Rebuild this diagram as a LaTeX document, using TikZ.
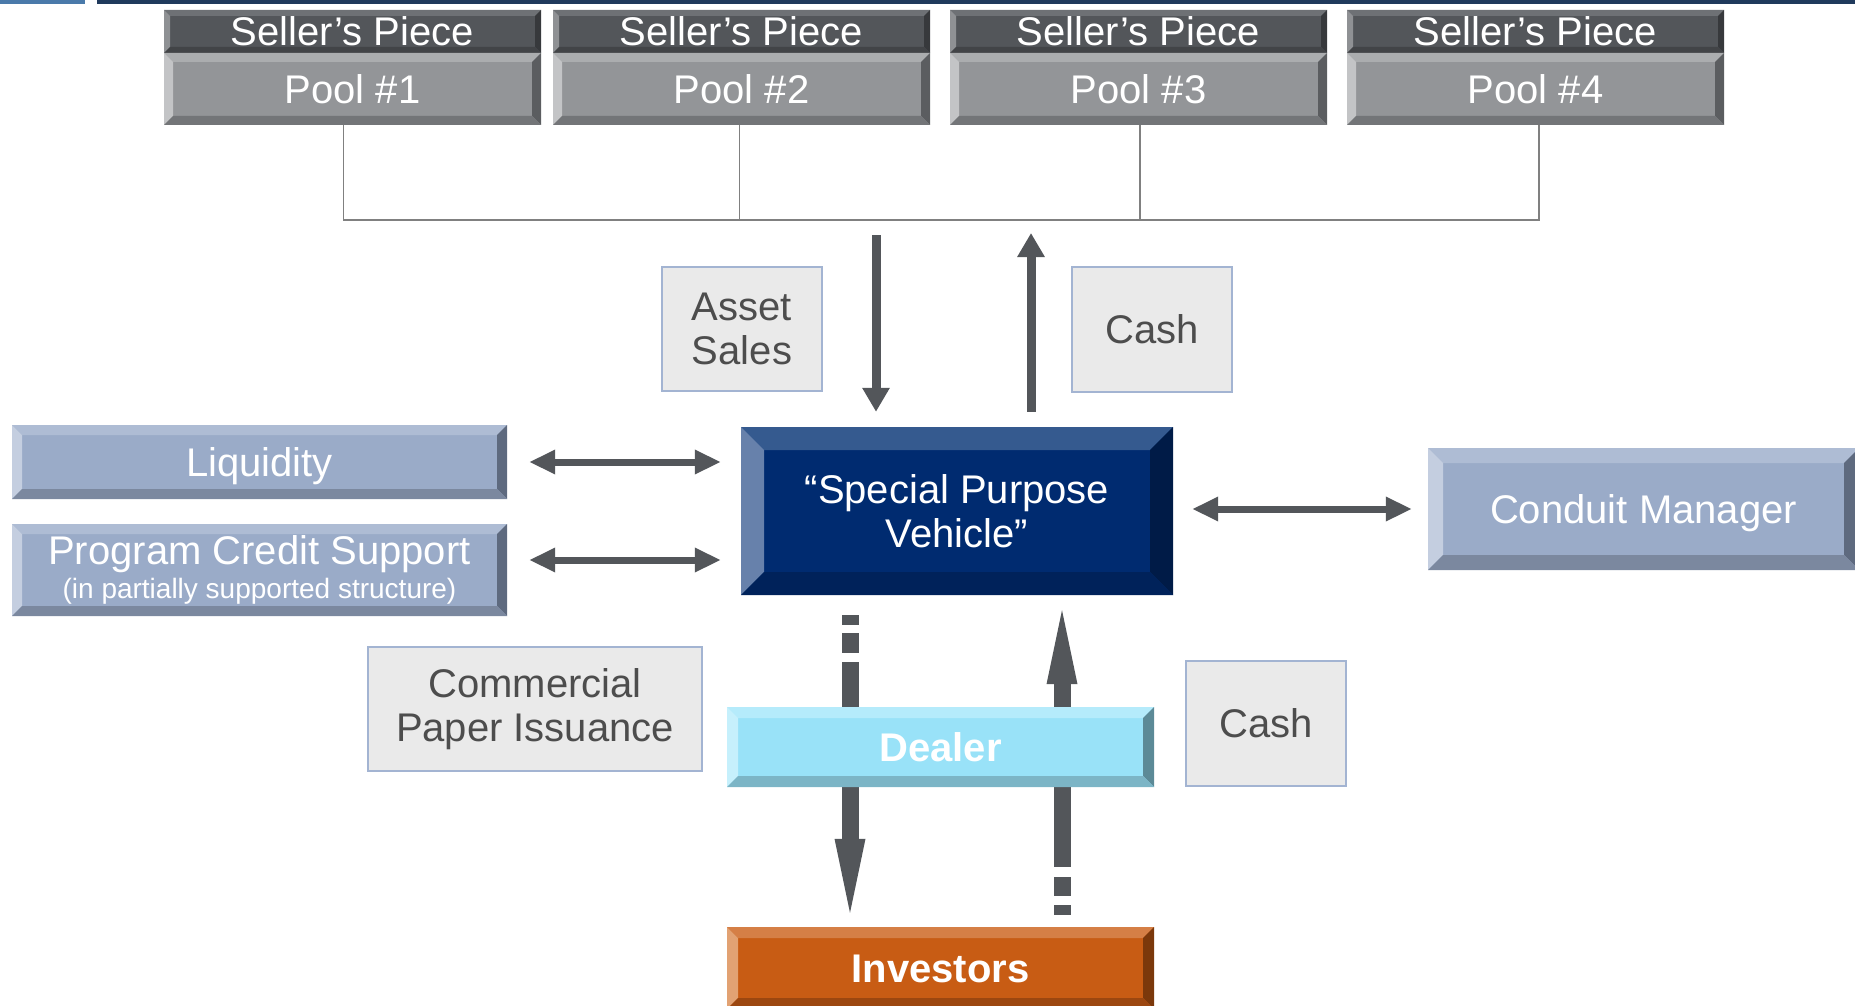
\documentclass[tikz,border=0pt]{standalone}
\usepackage{fontspec}
\setmainfont{Liberation Sans}
\usetikzlibrary{arrows.meta}

% palette
\definecolor{arrowGray}{HTML}{53565A}
\definecolor{linkGray}{HTML}{808080}
\definecolor{barBlue}{HTML}{4A7AAA}
\definecolor{barNavy}{HTML}{203A5C}
\definecolor{noteFill}{HTML}{EAEAEA}
\definecolor{noteLine}{HTML}{A3B4D2}
\definecolor{noteText}{HTML}{4D4D4D}
\definecolor{sellerFace}{HTML}{53565A}
\definecolor{sellerTop}{HTML}{6E7175}
\definecolor{sellerLeft}{HTML}{8F9194}
\definecolor{sellerRight}{HTML}{37393C}
\definecolor{sellerBot}{HTML}{424447}
\definecolor{poolFace}{HTML}{939598}
\definecolor{poolTop}{HTML}{ABADAF}
\definecolor{poolLeft}{HTML}{C3C4C6}
\definecolor{poolRight}{HTML}{5B5D60}
\definecolor{poolBot}{HTML}{737578}
\definecolor{slateFace}{HTML}{9AABC8}
\definecolor{slateTop}{HTML}{AEBCD4}
\definecolor{slateLeft}{HTML}{C4CEE0}
\definecolor{slateRight}{HTML}{5E6A7F}
\definecolor{slateBot}{HTML}{7B889F}
\definecolor{spvFace}{HTML}{002B70}
\definecolor{spvTop}{HTML}{355A8F}
\definecolor{spvLeft}{HTML}{6781AB}
\definecolor{spvRight}{HTML}{001B47}
\definecolor{spvBot}{HTML}{00225A}
\definecolor{dealerFace}{HTML}{99E2F8}
\definecolor{dealerTop}{HTML}{B5EBFB}
\definecolor{dealerLeft}{HTML}{C6F0FC}
\definecolor{dealerRight}{HTML}{5C8A97}
\definecolor{dealerBot}{HTML}{7CB5C6}
\definecolor{invFace}{HTML}{C85C14}
\definecolor{invTop}{HTML}{D57F46}
\definecolor{invLeft}{HTML}{E2A273}
\definecolor{invRight}{HTML}{7B380B}
\definecolor{invBot}{HTML}{9C4710}

\newcommand\fbig{\fontsize{40}{44}\selectfont}
\newcommand\fsub{\fontsize{28}{34}\selectfont}

\tikzset{
  % beveled box: face, top, left, right, bottom colours and bevel depth
  bevel/.style n args={6}{rectangle, inner sep=0pt, fill=#1, draw=none,
    path picture={
      \fill[#2] (path picture bounding box.north west) -- (path picture bounding box.north east)
        -- ([shift={(-#6,-#6)}]path picture bounding box.north east)
        -- ([shift={(#6,-#6)}]path picture bounding box.north west) -- cycle;
      \fill[#3] (path picture bounding box.north west) -- ([shift={(#6,-#6)}]path picture bounding box.north west)
        -- ([shift={(#6,#6)}]path picture bounding box.south west)
        -- (path picture bounding box.south west) -- cycle;
      \fill[#4] (path picture bounding box.north east) -- ([shift={(-#6,-#6)}]path picture bounding box.north east)
        -- ([shift={(-#6,#6)}]path picture bounding box.south east)
        -- (path picture bounding box.south east) -- cycle;
      \fill[#5] (path picture bounding box.south west) -- ([shift={(#6,#6)}]path picture bounding box.south west)
        -- ([shift={(-#6,#6)}]path picture bounding box.south east)
        -- (path picture bounding box.south east) -- cycle;
    }},
  oneline/.style={text height=29pt, text depth=0pt},
  sellerbox/.style={bevel={sellerFace}{sellerTop}{sellerLeft}{sellerRight}{sellerBot}{6pt},
    minimum width=377pt, minimum height=43pt, text=white, font=\fbig, oneline},
  poolbox/.style={bevel={poolFace}{poolTop}{poolLeft}{poolRight}{poolBot}{9pt},
    minimum width=377pt, minimum height=72pt, text=white, font=\fbig, oneline},
  slatebox/.style={bevel={slateFace}{slateTop}{slateLeft}{slateRight}{slateBot}{#1},
    text=white, font=\fbig},
  spvbox/.style={bevel={spvFace}{spvTop}{spvLeft}{spvRight}{spvBot}{23pt},
    text=white, font=\fbig, align=center},
  dealerbox/.style={bevel={dealerFace}{dealerTop}{dealerLeft}{dealerRight}{dealerBot}{11pt},
    text=white, font=\fbig\bfseries, oneline},
  invbox/.style={bevel={invFace}{invTop}{invLeft}{invRight}{invBot}{11pt},
    text=white, font=\fbig\bfseries, oneline},
  notebox/.style={rectangle, inner sep=0pt, fill=noteFill, draw=noteLine, line width=2.5pt,
    text=noteText, font=\fbig, align=center},
  link/.style={draw=linkGray, line width=1.5pt},
  thinarrow/.style={draw=arrowGray, line width=9pt, -{Triangle[width=26pt,length=24pt]}},
  dblarrow/.style={draw=arrowGray, line width=7pt,
    {Triangle[width=23pt,length=26pt]}-{Triangle[width=23pt,length=26pt]}},
  bigarrow/.style={draw=arrowGray, line width=17pt,
    -{Triangle[width=31pt,length=74pt,line width=0pt]}},
}

\begin{document}
\begin{tikzpicture}[x=1pt, y=-1pt]
\useasboundingbox (0,0) rectangle (1855,1006);
\clip (0,0) rectangle (1855,1006);

% header strips
\fill[barBlue] (0,0) rectangle (85,4);
\fill[barNavy] (97,0) rectangle (1855,4);

% seller's pieces and pools
\node[sellerbox] (seller1) at (352.5,31.5) {Seller’s Piece};
\node[poolbox]   (pool1)   at (352.5,89)   {Pool \#1};
\node[sellerbox] (seller2) at (741.5,31.5) {Seller’s Piece};
\node[poolbox]   (pool2)   at (741.5,89)   {Pool \#2};
\node[sellerbox] (seller3) at (1138.5,31.5) {Seller’s Piece};
\node[poolbox]   (pool3)   at (1138.5,89)   {Pool \#3};
\node[sellerbox] (seller4) at (1535.5,31.5) {Seller’s Piece};
\node[poolbox]   (pool4)   at (1535.5,89)   {Pool \#4};

% pools feed one common line
\coordinate (bus) at (0,220);
\coordinate (p1foot) at ([xshift=-9pt]pool1.south);
\coordinate (p2foot) at ([xshift=-2pt]pool2.south);
\coordinate (p3foot) at ([xshift=1.5pt]pool3.south);
\coordinate (p4foot) at ([xshift=3.5pt]pool4.south);
\draw[link] (p1foot) -- (p1foot |- bus) -- (p4foot |- bus) -- (p4foot);
\draw[link] (p2foot) -- (p2foot |- bus);
\draw[link] (p3foot) -- (p3foot |- bus);

% labels of the upper flows
\node[notebox, minimum width=160pt, minimum height=124pt] (asset) at (742,329) {Asset\\Sales};
\node[notebox, minimum width=160pt, minimum height=125pt] (cashtop) at (1152,329.5) {Cash};

% vehicle and its counterparties
\node[spvbox, minimum width=432pt, minimum height=168pt] (spv) at (957,511) {“Special Purpose\\Vehicle”};
\node[slatebox=10pt, oneline, minimum width=495pt, minimum height=74pt] (liq) at (259.5,462) {Liquidity};
\node[slatebox=10pt, align=center, font=\fontsize{40}{34}\selectfont, minimum width=495pt, minimum height=92pt]
  (pcs) at (259.5,570) {Program Credit Support\\{\fsub(in partially supported structure)}};
\node[slatebox=15pt, oneline, minimum width=431pt, minimum height=122pt] (cm) at (1643.5,509) {Conduit Manager};

% lower labels and investors
\node[notebox, minimum width=334pt, minimum height=124pt] (cpi) at (535,709) {Commercial\\Paper Issuance};
\node[notebox, minimum width=160pt, minimum height=125pt] (cashlow) at (1266,723.5) {Cash};
\node[invbox, minimum width=427pt, minimum height=82pt] (inv) at (940.5,968) {Investors};

% asset sales down, cash up
\coordinate (downx) at (876,235);
\coordinate (upx) at (1031,233);
\draw[thinarrow, shorten >=15pt] (downx) -- (downx |- spv.north);
\draw[thinarrow, shorten <=15pt] (upx |- spv.north) -- (upx);

% two-way links
\draw[dblarrow, shorten <=22pt, shorten >=20pt] (liq.east) -- (liq.east -| spv.west);
\coordinate (pcsline) at ([yshift=10pt]pcs.east);
\draw[dblarrow, shorten <=22pt, shorten >=20pt] (pcsline) -- (pcsline -| spv.west);
\draw[dblarrow, shorten <=19pt, shorten >=16pt] (spv.east |- cm.west) -- (cm.west);

% paper out to investors, cash back to the vehicle (behind the dealer)
\coordinate (paperx) at (850,0);
\coordinate (moneyx) at (1062,0);
\draw[bigarrow, dash pattern=on 10pt off 8pt on 20pt off 9pt on 600pt off 1pt,
  shorten <=20pt, shorten >=14pt] (paperx |- spv.south) -- (paperx |- inv.north);
\draw[bigarrow, dash pattern=on 10pt off 9pt on 19pt off 10pt on 600pt off 1pt,
  shorten <=12pt, shorten >=15pt] (moneyx |- inv.north) -- (moneyx |- spv.south);

\node[dealerbox, minimum width=427pt, minimum height=80pt] (dealer) at (940.5,747) {Dealer};
\end{tikzpicture}
\end{document}
